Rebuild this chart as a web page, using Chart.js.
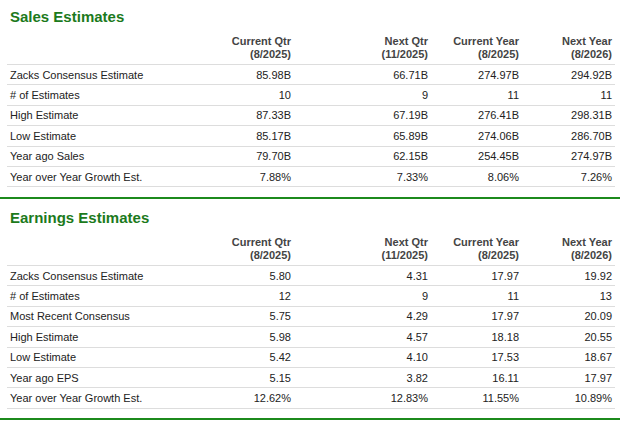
<!DOCTYPE html><html><head><meta charset="utf-8">
<script src="https://cdn.jsdelivr.net/npm/chart.js"></script>
<style>
body{margin:0;width:620px;height:427px;background:#fff;font-family:"Liberation Sans",Arial,sans-serif;color:#222;position:relative;overflow:hidden}
h2{position:absolute;left:10px;margin:0;font-size:15px;color:#1c7a1c;font-weight:bold}
table{position:absolute;left:7px;width:608px;border-collapse:collapse;font-size:11px}
td,th{padding:0 3px;height:19.4px;border-bottom:1px solid #ddd;text-align:right}
th{font-weight:bold;color:#444;line-height:13px;height:32px;vertical-align:bottom;padding-bottom:3px}
td:first-child,th:first-child{text-align:left}
.g{position:absolute;left:0;width:620px;height:2px;background:#1c8a1c}
</style></head><body>
<h2 style="top:8px">Sales Estimates</h2>
<table id="t1" style="top:29px"></table>
<div class="g" style="top:197px"></div>
<h2 style="top:209px">Earnings Estimates</h2>
<table id="t2" style="top:230px"></table>
<div class="g" style="top:418px"></div>
<canvas id="c" width="1" height="1" style="position:absolute;left:0;top:0"></canvas>
<script>
const headers=["Current Qtr<br>(8/2025)","Next Qtr<br>(11/2025)","Current Year<br>(8/2025)","Next Year<br>(8/2026)"];
const salesLabels=["Zacks Consensus Estimate","# of Estimates","High Estimate","Low Estimate","Year ago Sales","Year over Year Growth Est."];
const salesValues=[["85.98B","66.71B","274.97B","294.92B"],["10","9","11","11"],["87.33B","67.19B","276.41B","298.31B"],["85.17B","65.89B","274.06B","286.70B"],["79.70B","62.15B","254.45B","274.97B"],["7.88%","7.33%","8.06%","7.26%"]];
const epsLabels=["Zacks Consensus Estimate","# of Estimates","Most Recent Consensus","High Estimate","Low Estimate","Year ago EPS","Year over Year Growth Est."];
const epsValues=[["5.80","4.31","17.97","19.92"],["12","9","11","13"],["5.75","4.29","17.97","20.09"],["5.98","4.57","18.18","20.55"],["5.42","4.10","17.53","18.67"],["5.15","3.82","16.11","17.97"],["12.62%","12.83%","11.55%","10.89%"]];
const widths=[190,97,137,91,93];
function build(id,labels,vals){
 let h='<colgroup>'+widths.map(w=>'<col style="width:'+w+'px">').join('')+'</colgroup><tr><th></th>'+headers.map(x=>'<th>'+x+'</th>').join('')+'</tr>';
 labels.forEach((l,i)=>{h+='<tr><td>'+l+'</td>'+vals[i].map(v=>'<td>'+v+'</td>').join('')+'</tr>';});
 document.getElementById(id).innerHTML=h;
}
build('t1',salesLabels,salesValues);build('t2',epsLabels,epsValues);
new Chart(document.getElementById('c'),{type:'bar',data:{labels:[],datasets:[]},options:{responsive:false,animation:false,plugins:{legend:{display:false}},scales:{x:{display:false},y:{display:false}}}});
</script></body></html>
